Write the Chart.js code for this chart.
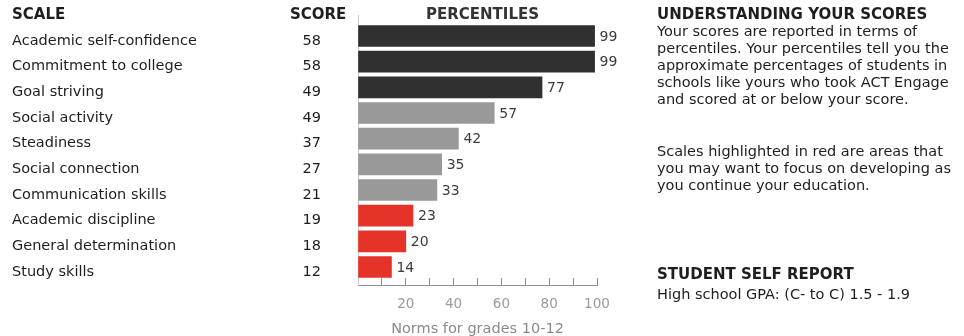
<!DOCTYPE html>
<html>
<head>
<meta charset="utf-8">
<script src="https://cdn.jsdelivr.net/npm/chart.js@4"></script>
<style>
  body{margin:0;width:964px;height:336px;position:relative;background:#fff;overflow:hidden;
       font-family:"DejaVu Sans",sans-serif;color:#1e1e1e}
  #grafico{position:absolute;left:0;top:0}
  .cab{position:absolute;font-weight:bold;font-size:15px;line-height:17px;white-space:nowrap}
  .txt{position:absolute;font-size:14.5px;line-height:17px;white-space:nowrap}
</style>
</head>
<body>
<canvas id="grafico" width="964" height="336"></canvas>

<div class="cab" style="left:12px;top:6px">SCALE</div>
<div class="cab" style="left:290px;top:6px">SCORE</div>
<div class="cab" style="left:426px;top:6px;color:#333">PERCENTILES</div>

<div class="cab" style="left:657px;top:6px">UNDERSTANDING YOUR SCORES</div>
<div class="txt" style="left:657px;top:23px">Your scores are reported in terms of<br>percentiles. Your percentiles tell you the<br>approximate percentages of students in<br>schools like yours who took ACT Engage<br>and scored at or below your score.</div>
<div class="txt" style="left:657px;top:143px">Scales highlighted in red are areas that<br>you may want to focus on developing as<br>you continue your education.</div>

<div class="cab" style="left:657px;top:266px">STUDENT SELF REPORT</div>
<div class="txt" style="left:657px;top:286px">High school GPA: (C- to C) 1.5 - 1.9</div>

<script>
// escalas del reporte, puntaje y percentil de cada una
const escalas = ['Academic self-confidence', 'Commitment to college', 'Goal striving', 'Social activity',
  'Steadiness', 'Social connection', 'Communication skills', 'Academic discipline',
  'General determination', 'Study skills']
const puntajes = [58, 58, 49, 49, 37, 27, 21, 19, 18, 12]
const percentiles = [99, 99, 77, 57, 42, 35, 33, 23, 20, 14]
const marcasX = [20, 40, 60, 80, 100]

const fuente = '"DejaVu Sans", sans-serif'

// oscuro arriba de 75, gris en el medio, rojo abajo de 25
function colorBarra(p){
  if (p >= 75) return '#303030'
  if (p >= 25) return '#999999'
  return '#e5332a'
}

// una marca por escala, en el indice de la fila
function marcasFilas(scale){
  scale.ticks = escalas.map((e, i) => ({value: i}))
}

// ancho fijo de la columna y sin relleno extra arriba/abajo
function anchoFijo(w){
  return (s) => {
    s.width = w
    s.paddingTop = 0
    s.paddingBottom = 0
  }
}

// numero del percentil al lado de cada barra
const etiquetasValor = {
  id: 'etiquetasValor',
  afterDatasetsDraw(chart){
    const ctx = chart.ctx
    const barras = chart.getDatasetMeta(0).data
    ctx.save()
    ctx.font = '14px ' + fuente
    ctx.fillStyle = '#3c3c3c'
    ctx.textBaseline = 'middle'
    barras.forEach((b, i) => {
      ctx.fillText(percentiles[i], b.x + 5, b.y + 1)
    })
    ctx.restore()
  }
}

const ctx = document.getElementById('grafico')

new Chart(ctx, {
  type: 'bar',
  data: {
    datasets: [{
      data: percentiles.map((p, i) => ({x: p, y: i})),
      backgroundColor: percentiles.map(colorBarra),
      borderWidth: 0,
      barThickness: 21
    }]
  },
  options: {
    indexAxis: 'y',
    responsive: false,
    animation: false,
    layout: {padding: {left: 12, right: 367, top: 15, bottom: 0}},
    plugins: {legend: {display: false}, tooltip: {enabled: false}},
    scales: {
      x: {
        type: 'linear',
        min: 0,
        max: 100,
        afterFit: (s) => { s.height = 51 },
        border: {color: '#8c8c8c'},
        grid: {drawOnChartArea: false, tickLength: -7, color: '#8c8c8c'},
        ticks: {
          stepSize: 10, padding: 18, autoSkip: false, maxRotation: 0,
          color: '#9a9a9a', font: {family: fuente, size: 13.5},
          callback: (v) => marcasX.includes(v) ? v : ''
        },
        title: {
          display: true, text: 'Norms for grades 10-12', color: '#8a8a8a', padding: 0,
          font: {family: fuente, size: 14.5, lineHeight: 1}
        }
      },
      y: {
        type: 'linear',
        min: -0.818,
        max: 9.701,
        reverse: true,
        offset: false,
        weight: 2,
        afterBuildTicks: marcasFilas,
        afterFit: anchoFijo(278),
        border: {display: false},
        grid: {display: false, offset: false},
        ticks: {
          crossAlign: 'far', labelOffset: 5, autoSkip: false,
          color: '#1e1e1e', font: {family: fuente, size: 14.5},
          callback: (v) => escalas[v]
        }
      },
      y2: {
        type: 'linear',
        position: 'left',
        min: -0.818,
        max: 9.701,
        reverse: true,
        offset: false,
        weight: 1,
        afterBuildTicks: marcasFilas,
        afterFit: anchoFijo(68),
        border: {color: '#c8c8c8'},
        grid: {drawOnChartArea: false, drawTicks: false, offset: false},
        ticks: {
          padding: 37, labelOffset: 5, autoSkip: false,
          color: '#1e1e1e', font: {family: fuente, size: 14.5},
          callback: (v) => puntajes[v]
        }
      }
    }
  },
  plugins: [etiquetasValor]
})
</script>
</body>
</html>
